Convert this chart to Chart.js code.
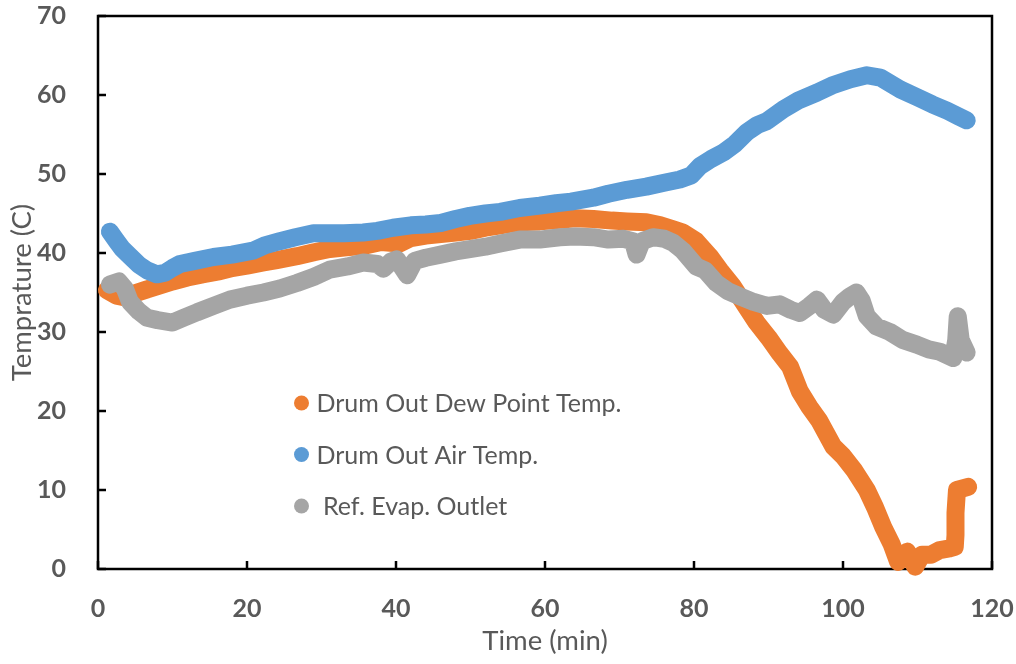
<!DOCTYPE html>
<html><head><meta charset="utf-8">
<script src="https://cdn.jsdelivr.net/npm/chart.js@4/dist/chart.umd.min.js"></script>
<style>html,body{margin:0;padding:0;background:#fff}#wrap{width:1016px;height:664px}</style>
</head><body><div id="wrap"><canvas id="c" width="1016" height="664"></canvas></div>
<script>
// ---- data ----
const seriesNames = ['Drum Out Dew Point Temp.', 'Drum Out Air Temp.', ' Ref. Evap. Outlet'];
const seriesColors = ['#ED7D31', '#5B9BD5', '#A5A5A5'];

const dewTime = [1.2,2.5,3.5,5,6.6,8,10,12,14,16.4,18,20,22.2,24,26.7,29,31.1,33,35.6,38,40.5,42,44,46,48,50,52,54,56.6,59.3,62,64,66.5,69,71,73.6,75.5,77.2,78.5,80.3,82.1,83.5,85.2,86.8,88.4,90,91.5,92.9,94.2,95.5,96.8,98.7,100,101.5,103.2,104.3,105.4,106.5,107.4,108.6,109.7,110.6,111.8,113,114.3,115,115.1,115.1,115.3,116.8];
const dewTemp = [35.3,34.6,34.4,34.9,35.4,35.8,36.4,36.9,37.3,37.7,38.1,38.4,38.8,39.1,39.6,40.1,40.5,40.7,40.9,41.4,41.2,41.9,42.2,42.4,42.6,42.8,43.2,43.5,43.9,44.0,44.2,44.4,44.3,44.1,44.0,43.9,43.5,43.0,42.6,41.5,39.6,37.8,35.8,33.5,31.2,29.3,27.3,25.6,22.5,20.5,18.8,15.5,14.3,12.5,10.0,7.8,5.3,3.2,0.9,2.2,0.3,1.8,1.8,2.4,2.6,2.8,4.3,7.1,10.0,10.4];

const airTime = [1.6,2.5,3.3,4.3,5.5,6.6,7.9,9,10,11,13,15.5,18,20.8,22.5,24.4,26.5,28.9,31,33,35.6,37.5,39.6,42,44,46,48,49.9,52,54,56.6,59.3,61.5,63.5,66.5,68.5,71,73.6,76,78.1,79.6,80.8,82.3,83.9,85.5,87.1,88.5,89.8,92,94,96.5,98.5,101,103.2,105,107.7,110,112,114,115.5,116.6];
const airTemp = [42.7,41.5,40.5,39.6,38.5,37.8,37.3,37.5,38.1,38.6,39.0,39.5,39.8,40.3,41.0,41.5,42.0,42.5,42.5,42.5,42.6,42.8,43.2,43.5,43.6,43.8,44.3,44.7,45.0,45.2,45.7,46.0,46.3,46.5,47.0,47.5,48.0,48.4,48.9,49.3,49.8,51.0,51.9,52.7,53.8,55.3,56.2,56.7,58.2,59.3,60.3,61.2,62.0,62.5,62.2,60.7,59.7,58.8,58.0,57.3,56.8];

const evapTime = [1.6,2.8,3.6,4.3,5.5,6.6,8,10,11.5,13.3,15.5,17.7,20,22.2,24.4,26.7,29,31.1,33.5,35.6,37.5,38.3,39.3,40.1,41.5,42.5,44,46,48,49.9,52,54,56.6,59.3,62,64,66.5,68.5,70.5,71.8,72.3,73,74.5,76,77.2,78.5,80.3,81.5,83,84.5,86.2,88,89.8,91.5,93,94.2,95.5,96.5,97.5,98.7,100,100.9,101.8,102.5,103.2,104.5,106.3,108,109.9,111.5,113,114.8,115.2,115.4,115.8,116.6];
const evapTemp = [36.0,36.4,35.5,33.8,32.6,31.8,31.5,31.2,31.8,32.5,33.3,34.1,34.6,35.0,35.5,36.2,37.0,37.9,38.3,38.8,38.6,38.0,38.9,39.2,37.2,39.0,39.4,39.8,40.2,40.5,40.8,41.2,41.7,41.7,42.0,42.1,42.0,41.7,41.8,41.5,39.8,41.5,42.0,41.8,41.3,40.3,38.3,37.8,36.2,35.2,34.5,33.8,33.3,33.5,32.8,32.4,33.3,34.1,32.8,32.2,33.8,34.5,35.0,34.0,32.0,30.7,30.0,29.0,28.4,27.8,27.5,26.7,29.0,32.0,29.0,27.4];

const xTickValues = [0,20,40,60,80,100,120];
const yTickValues = [0,10,20,30,40,50,60,70];
const xTitle = 'Time (min)';
const yTitle = 'Temprature (C)';

// ---- build ----
const pairs = (xs, ys) => xs.map((x, i) => ({x, y: ys[i]}));
const seriesData = [pairs(dewTime, dewTemp), pairs(airTime, airTemp), pairs(evapTime, evapTemp)];
const TXT = '#595959';

const framePlugin = {
  id: 'frame',
  beforeDatasetsDraw(chart) {
    const {ctx, chartArea: a, scales: {x, y}} = chart;
    ctx.save();
    ctx.strokeStyle = '#000'; ctx.lineWidth = 2.5;
    ctx.strokeRect(a.left, a.top, a.right - a.left, a.bottom - a.top);
    ctx.beginPath();
    x.ticks.forEach(t => { const p = x.getPixelForValue(t.value); ctx.moveTo(p, a.bottom); ctx.lineTo(p, a.bottom - 8); });
    y.ticks.forEach(t => { const p = y.getPixelForValue(t.value); ctx.moveTo(a.left, p); ctx.lineTo(a.left + 8, p); });
    ctx.stroke();
    ctx.restore();
  }
};

const legendPlugin = {
  id: 'inLegend',
  afterDatasetsDraw(chart, args, opts) {
    const {ctx} = chart;
    ctx.save();
    ctx.font = opts.font;
    ctx.textBaseline = 'middle';
    chart.data.datasets.forEach((ds, i) => {
      const cy = opts.y + i * opts.gap;
      ctx.beginPath();
      ctx.fillStyle = ds.borderColor;
      ctx.arc(opts.x, cy, opts.r, 0, Math.PI * 2);
      ctx.fill();
      ctx.fillStyle = TXT;
      ctx.fillText(ds.label, opts.x + opts.textGap, cy + 1);
    });
    ctx.restore();
  }
};

function fixTicks(values) {
  return function (scale) { scale.ticks = values.map(v => ({value: v})); };
}
function noPad(s) { s.paddingTop = 0; s.paddingBottom = 0; s.paddingLeft = 0; s.paddingRight = 0; }

function build() {
  Chart.defaults.font.family = 'Lato';
  Chart.defaults.color = TXT;
  new Chart(document.getElementById('c'), {
    type: 'scatter',
    data: {
      datasets: seriesData.map((d, i) => ({
        label: seriesNames[i],
        data: d,
        showLine: true,
        borderColor: seriesColors[i],
        backgroundColor: seriesColors[i],
        borderWidth: 18,
        borderCapStyle: 'round',
        borderJoinStyle: 'round',
        pointRadius: 0,
        pointHoverRadius: 0,
        tension: 0,
        clip: false,
        order: [3, 2, 1][i]
      }))
    },
    options: {
      responsive: false,
      animation: false,
      layout: {padding: {left: 0, right: 24, top: 16, bottom: 0}},
      plugins: {
        legend: {display: false},
        tooltip: {enabled: false},
        inLegend: {x: 301.5, y: 403, gap: 51.5, r: 7.5, textGap: 15, font: '25px Lato'}
      },
      scales: {
        x: {
          type: 'linear', min: 0, max: 120,
          afterBuildTicks: fixTicks(xTickValues),
          afterFit: s => { s.height = 95; noPad(s); },
          grid: {display: false}, border: {display: false},
          ticks: {padding: 17, color: TXT, font: {size: 25, weight: 'bold'}},
          title: {display: true, text: xTitle, color: TXT, font: {size: 27.5}, padding: {top: 0, bottom: 6}}
        },
        y: {
          type: 'linear', min: 0, max: 70,
          afterBuildTicks: fixTicks(yTickValues),
          afterFit: s => { s.width = 98; noPad(s); },
          grid: {display: false}, border: {display: false},
          ticks: {padding: 24, color: TXT, font: {size: 25, weight: 'bold'}},
          title: {display: true, text: yTitle, color: TXT, font: {size: 27.5}, padding: {top: 6, bottom: 0}}
        }
      }
    },
    plugins: [framePlugin, legendPlugin]
  });
}

Promise.all([
  document.fonts.load('bold 25px Lato'),
  document.fonts.load('27.5px Lato'),
  document.fonts.load('25px Lato')
]).then(build, build);
</script></body></html>
